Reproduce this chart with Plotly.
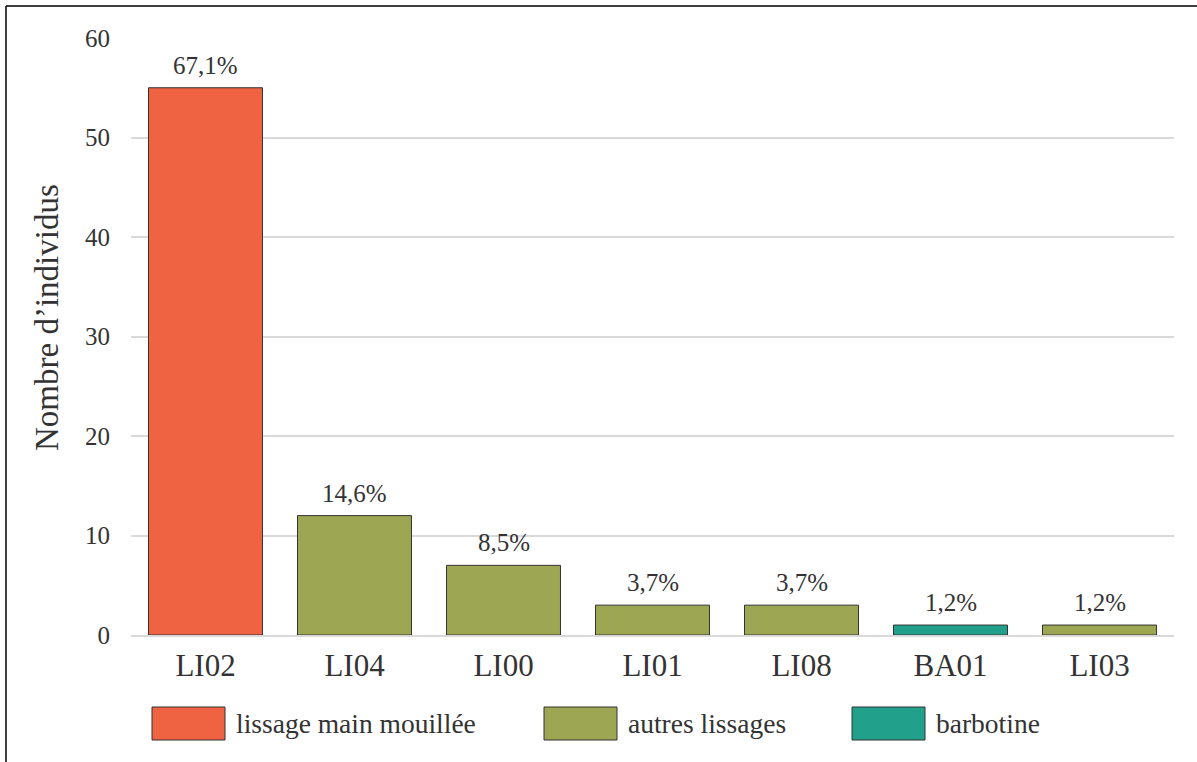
import plotly.graph_objects as go

categories = ["LI02", "LI04", "LI00", "LI01", "LI08", "BA01", "LI03"]
counts = [55, 12, 7, 3, 3, 1, 1]
pct_labels = ["67,1%", "14,6%", "8,5%", "3,7%", "3,7%", "1,2%", "1,2%"]
groups = ["lissage main mouillée", "autres lissages", "autres lissages",
          "autres lissages", "autres lissages", "barbotine", "autres lissages"]
legend_names = ["lissage main mouillée", "autres lissages", "barbotine"]
group_colors = {"lissage main mouillée": "#F06342",
                "autres lissages": "#9CA653",
                "barbotine": "#21A08B"}
y_ticks = [0, 10, 20, 30, 40, 50, 60]
y_title = "Nombre d’individus"

FONT = "Liberation Serif, serif"
TXT = "#333333"

# page geometry (pixels)
WIDTH, HEIGHT = 1197, 762
ML, MR, MT, MB = 131, 23, 38, 127
PW = WIDTH - ML - MR
PH = HEIGHT - MT - MB


def px_x(px):
    return (px - ML) / PW


def px_y(py):
    return (HEIGHT - MB - py) / PH


fig = go.Figure()
fig.add_trace(go.Bar(
    x=categories, y=counts,
    marker=dict(color=[group_colors[g] for g in groups],
                line=dict(color="#333333", width=1)),
    showlegend=False, hoverinfo="x+y",
))

for c, v, t in zip(categories, counts, pct_labels):
    fig.add_annotation(x=c, y=v, text=t, showarrow=False, yanchor="bottom",
                       yshift=7, font=dict(family=FONT, size=25, color=TXT))

# y-axis title (placed as in the reference, slightly above plot centre)
fig.add_annotation(xref="paper", yref="paper", x=px_x(47), y=px_y(318),
                   xanchor="center", yanchor="middle", textangle=-90,
                   showarrow=False, text=y_title,
                   font=dict(family=FONT, size=33, color=TXT))

# legend drawn as boxes + labels
legend_box_x = [152, 544, 852]
for name, bx in zip(legend_names, legend_box_x):
    fig.add_shape(type="rect", xref="paper", yref="paper",
                  x0=px_x(bx), x1=px_x(bx + 73), y0=px_y(740), y1=px_y(707),
                  fillcolor=group_colors[name], line=dict(color="#333333", width=1))
    fig.add_annotation(xref="paper", yref="paper", x=px_x(bx + 82), y=px_y(723.5),
                       xanchor="left", yanchor="middle", showarrow=False, text=name,
                       font=dict(family=FONT, size=27.5, color=TXT))

# frame lines (top and left)
fig.add_shape(type="line", xref="paper", yref="paper",
              x0=px_x(6), x1=px_x(WIDTH + 5), y0=px_y(6), y1=px_y(6),
              line=dict(color="black", width=1.5))
fig.add_shape(type="line", xref="paper", yref="paper",
              x0=px_x(6), x1=px_x(6), y0=px_y(6), y1=px_y(HEIGHT + 5),
              line=dict(color="black", width=1.5))

fig.update_layout(
    width=WIDTH, height=HEIGHT,
    margin=dict(l=ML, r=MR, t=MT, b=MB),
    paper_bgcolor="white", plot_bgcolor="white",
    bargap=0.235,
    font=dict(family=FONT, color=TXT),
)
fig.update_xaxes(
    showgrid=False, showline=True, linecolor="#d9d9d9", linewidth=2,
    tickfont=dict(family=FONT, size=31, color=TXT), ticks="",
    ticklabelstandoff=2,
)
fig.update_yaxes(
    range=[0, 60], tickvals=y_ticks, showgrid=True, gridcolor="#d9d9d9",
    gridwidth=2, zeroline=False, showline=False,
    tickfont=dict(family=FONT, size=25, color=TXT), ticks="",
    ticklabelstandoff=20,
)

fig.write_html("out.html", config={"displayModeBar": False},
               post_script="document.body.style.margin='0';")
